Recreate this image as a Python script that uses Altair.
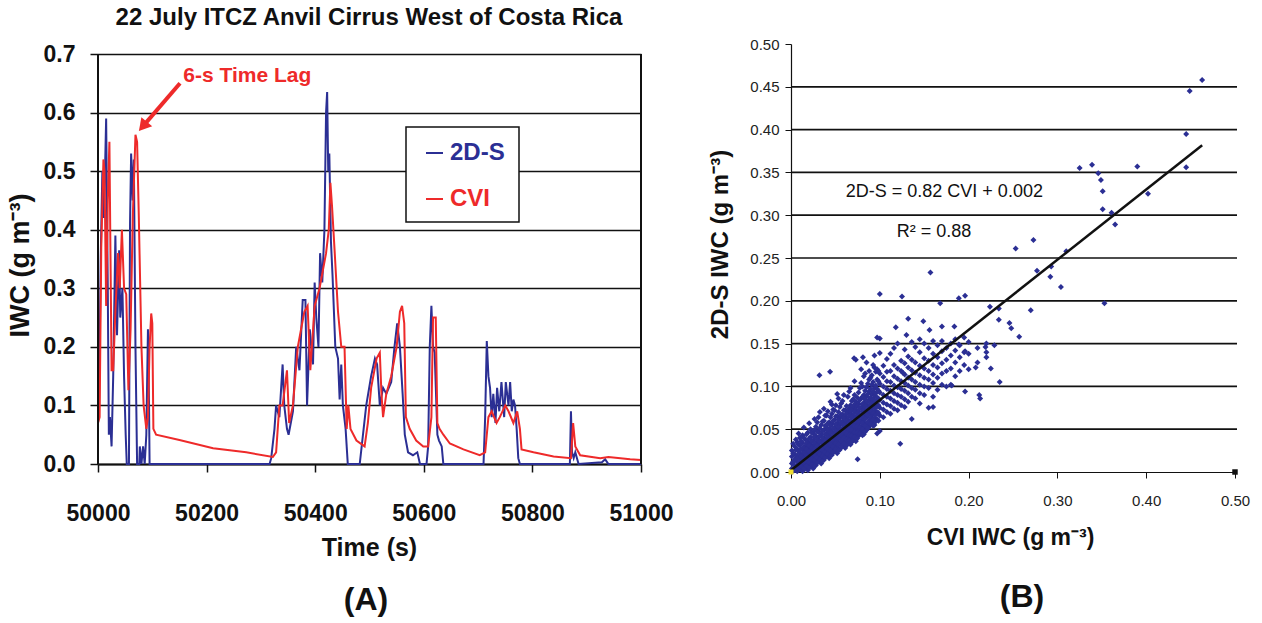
import altair as alt
import pandas as pd

# ---------------- Panel A: time series (time in s, IWC in g m^-3) ----------------
t_2ds = [50000, 50002, 50005, 50008, 50011, 50015, 50018, 50020, 50022, 50025,
         50028, 50032, 50035, 50039, 50041, 50045, 50048, 50051, 50053, 50057,
         50059, 50061, 50064, 50066, 50069, 50072, 50076, 50077, 50080, 50083,
         50086, 50089, 50092, 50094, 50095, 50316, 50319, 50325, 50328, 50334,
         50340, 50343, 50348, 50351, 50359, 50365, 50371, 50377, 50382, 50385,
         50390, 50396, 50399, 50402, 50406, 50409, 50413, 50417, 50420, 50422,
         50424, 50426, 50429, 50432, 50437, 50442, 50445, 50448, 50451, 50456,
         50460, 50482, 50494, 50503, 50510, 50514, 50519, 50525, 50531, 50540,
         50546, 50551, 50556, 50561, 50565, 50571, 50580, 50588, 50593, 50605,
         50608, 50611, 50614, 50617, 50620, 50625, 50628, 50633, 50636, 50710,
         50713, 50716, 50719, 50722, 50725, 50728, 50732, 50735, 50739, 50743,
         50748, 50751, 50756, 50759, 50762, 50765, 50768, 50771, 50774, 50777,
         50869, 50871, 50873, 50876, 50879, 50885, 50928, 50934, 50940, 51000]
iwc_2ds = [0.07, 0.10, 0.35, 0.50, 0.42, 0.59, 0.30, 0.05, 0.08, 0.03,
           0.15, 0.39, 0.22, 0.365, 0.25, 0.30, 0.15, 0.05, 0.0, 0.0,
           0.41, 0.53, 0.45, 0.52, 0.20, 0.0, 0.0, 0.03, 0.0, 0.03,
           0.0, 0.05, 0.23, 0.10, 0.0, 0.0, 0.01, 0.06, 0.10, 0.08,
           0.17, 0.10, 0.06, 0.05, 0.09, 0.20, 0.16, 0.28, 0.28, 0.10,
           0.23, 0.17, 0.31, 0.25, 0.20, 0.36, 0.31, 0.40, 0.60, 0.635,
           0.50, 0.53, 0.38, 0.32, 0.20, 0.18, 0.11, 0.17, 0.10, 0.06,
           0.0, 0.0, 0.10, 0.15, 0.18, 0.17, 0.10, 0.13, 0.12, 0.14,
           0.20, 0.24, 0.20, 0.12, 0.05, 0.02, 0.015, 0.02, 0.0, 0.0,
           0.03, 0.20, 0.27, 0.20, 0.19, 0.05, 0.04, 0.03, 0.0, 0.0,
           0.08, 0.21, 0.15, 0.13, 0.08, 0.12, 0.07, 0.13, 0.09, 0.14,
           0.08, 0.14, 0.10, 0.14, 0.09, 0.11, 0.10, 0.06, 0.01, 0.0,
           0.0, 0.09, 0.02, 0.01, 0.02, 0.0, 0.003, 0.008, 0.0, 0.0]

t_cvi = [50000, 50003, 50006, 50010, 50012, 50015, 50018, 50021, 50025, 50028,
         50032, 50037, 50040, 50044, 50048, 50052, 50056, 50060, 50064, 50069,
         50072, 50075, 50080, 50084, 50089, 50092, 50095, 50098, 50100, 50102,
         50107, 50150, 50212, 50273, 50322, 50328, 50334, 50340, 50348, 50352,
         50359, 50368, 50374, 50380, 50386, 50391, 50399, 50408, 50414, 50420,
         50425, 50428, 50431, 50436, 50442, 50448, 50454, 50458, 50461, 50465,
         50476, 50491, 50497, 50503, 50513, 50519, 50522, 50525, 50531, 50540,
         50550, 50556, 50560, 50564, 50567, 50574, 50586, 50599, 50608, 50614,
         50617, 50622, 50625, 50629, 50636, 50648, 50673, 50703, 50713, 50719,
         50725, 50734, 50740, 50750, 50756, 50765, 50772, 50777, 50780, 50802,
         50839, 50871, 50875, 50879, 50888, 50925, 50940, 50980, 51000]
iwc_cvi = [0.07, 0.08, 0.37, 0.52, 0.50, 0.27, 0.45, 0.55, 0.16, 0.16,
           0.26, 0.36, 0.30, 0.40, 0.30, 0.29, 0.126, 0.23, 0.42, 0.562,
           0.55, 0.43, 0.20, 0.10, 0.06, 0.08, 0.20, 0.257, 0.24, 0.06,
           0.05, 0.041, 0.027, 0.02, 0.012, 0.02, 0.10, 0.10, 0.16, 0.07,
           0.10, 0.20, 0.23, 0.26, 0.27, 0.16, 0.27, 0.30, 0.33, 0.36,
           0.40, 0.48, 0.44, 0.36, 0.26, 0.20, 0.20, 0.06, 0.10, 0.06,
           0.04, 0.03, 0.07, 0.13, 0.18, 0.19, 0.12, 0.08, 0.12, 0.15,
           0.20, 0.26, 0.27, 0.24, 0.08, 0.06, 0.04, 0.03, 0.03, 0.08,
           0.25, 0.25, 0.07, 0.06, 0.05, 0.035, 0.025, 0.015, 0.02, 0.08,
           0.09, 0.07, 0.08, 0.10, 0.09, 0.07, 0.09, 0.06, 0.025, 0.02,
           0.013, 0.01, 0.07, 0.03, 0.015, 0.01, 0.012, 0.008, 0.007]

a_x_ticks = [50000, 50200, 50400, 50600, 50800, 51000]
a_y_ticks = [0.0, 0.1, 0.2, 0.3, 0.4, 0.5, 0.6, 0.7]
a_series = ["2D-S", "CVI"]

# annotation "6-s Time Lag" (data coordinates)
lag_label = ["6-s Time Lag"]
lag_text_at = [50275, 0.662]
arrow_from = [50151, 0.650]
arrow_head_at = [50082.6, 0.5764]

# ---------------- Panel B: scatter 2D-S IWC vs CVI IWC ----------------
cloud_cvi = [0.001, 0.004, 0.007, 0.010, 0.013, 0.016, 0.019, 0.022, 0.025, 0.028,
             0.031, 0.034, 0.037, 0.040, 0.043, 0.046, 0.049, 0.052, 0.055, 0.058,
             0.061, 0.064, 0.067, 0.070, 0.073, 0.076, 0.079, 0.082, 0.085, 0.088,
             0.091, 0.094, 0.097, 0.100, 0.104, 0.108, 0.112, 0.116, 0.120, 0.124,
             0.128, 0.132, 0.136, 0.140, 0.145, 0.150, 0.155, 0.160, 0.165, 0.170,
             0.175, 0.180, 0.185, 0.190, 0.195, 0.200, 0.210, 0.220]
cloud_2ds = [
    [0.000, 0.004, 0.010, 0.018, 0.025],
    [0.002, 0.008, 0.014, 0.021, 0.030],
    [0.001, 0.006, 0.012, 0.019, 0.027, 0.035],
    [0.003, 0.009, 0.015, 0.022, 0.031, 0.040],
    [0.001, 0.007, 0.013, 0.020, 0.026, 0.034, 0.043],
    [0.004, 0.010, 0.017, 0.024, 0.030, 0.038],
    [0.002, 0.008, 0.015, 0.021, 0.028, 0.035, 0.046],
    [0.006, 0.012, 0.018, 0.025, 0.032, 0.041, 0.050],
    [0.004, 0.011, 0.017, 0.023, 0.030, 0.037, 0.045],
    [0.008, 0.014, 0.021, 0.027, 0.034, 0.042, 0.053],
    [0.012, 0.018, 0.024, 0.031, 0.038, 0.047, 0.064],
    [0.010, 0.016, 0.023, 0.029, 0.036, 0.044, 0.055],
    [0.014, 0.020, 0.027, 0.034, 0.040, 0.049, 0.060, 0.074],
    [0.018, 0.024, 0.031, 0.037, 0.045, 0.052, 0.066],
    [0.016, 0.022, 0.029, 0.035, 0.042, 0.050, 0.058],
    [0.020, 0.027, 0.033, 0.040, 0.047, 0.056, 0.068, 0.079],
    [0.024, 0.031, 0.038, 0.044, 0.052, 0.061, 0.072],
    [0.022, 0.029, 0.036, 0.043, 0.049, 0.057, 0.065, 0.091],
    [0.026, 0.033, 0.040, 0.047, 0.055, 0.063, 0.076],
    [0.030, 0.037, 0.044, 0.051, 0.059, 0.067, 0.083],
    [0.028, 0.035, 0.042, 0.049, 0.056, 0.064, 0.072],
    [0.034, 0.040, 0.047, 0.054, 0.061, 0.070, 0.088],
    [0.032, 0.039, 0.046, 0.053, 0.060, 0.068, 0.078, 0.098],
    [0.038, 0.044, 0.051, 0.058, 0.066, 0.075, 0.085],
    [0.036, 0.043, 0.050, 0.057, 0.064, 0.073, 0.082, 0.131],
    [0.042, 0.049, 0.056, 0.063, 0.071, 0.080, 0.093],
    [0.046, 0.053, 0.060, 0.067, 0.075, 0.086, 0.104, 0.120],
    [0.044, 0.051, 0.058, 0.066, 0.073, 0.081, 0.090, 0.112],
    [0.049, 0.056, 0.064, 0.071, 0.079, 0.088, 0.099, 0.128],
    [0.053, 0.060, 0.068, 0.076, 0.084, 0.094, 0.108, 0.118],
    [0.058, 0.066, 0.074, 0.082, 0.091, 0.102, 0.113],
    [0.055, 0.063, 0.071, 0.080, 0.089, 0.098, 0.122, 0.136],
    [0.045, 0.062, 0.070, 0.078, 0.087, 0.097, 0.108, 0.120],
    [0.048, 0.066, 0.075, 0.084, 0.093, 0.103, 0.115, 0.139, 0.156],
    [0.064, 0.073, 0.081, 0.090, 0.100, 0.111, 0.124],
    [0.070, 0.079, 0.088, 0.097, 0.106, 0.117, 0.132],
    [0.068, 0.077, 0.086, 0.095, 0.105, 0.118, 0.138],
    [0.074, 0.083, 0.092, 0.101, 0.112, 0.125, 0.145],
    [0.072, 0.081, 0.090, 0.099, 0.109, 0.121, 0.150],
    [0.078, 0.088, 0.097, 0.106, 0.118, 0.130],
    [0.076, 0.085, 0.095, 0.104, 0.114, 0.127, 0.143],
    [0.082, 0.092, 0.101, 0.110, 0.122, 0.135],
    [0.062, 0.088, 0.098, 0.108, 0.119, 0.131, 0.152],
    [0.086, 0.096, 0.105, 0.116, 0.128, 0.146],
    [0.080, 0.092, 0.102, 0.113, 0.124, 0.140],
    [0.090, 0.100, 0.110, 0.121, 0.133, 0.150],
    [0.075, 0.098, 0.108, 0.118, 0.130, 0.145],
    [0.088, 0.104, 0.114, 0.125, 0.138, 0.153],
    [0.096, 0.110, 0.122, 0.134, 0.148],
    [0.102, 0.115, 0.127, 0.141, 0.153],
    [0.100, 0.118, 0.131, 0.145],
    [0.102, 0.121, 0.136, 0.150],
    [0.112, 0.128, 0.142, 0.155],
    [0.118, 0.134, 0.148],
    [0.125, 0.140, 0.157],
    [0.120, 0.138, 0.152],
    [0.128, 0.145],
    [0.140, 0.150],
]
cloud2_cvi = [0.0025, 0.0055, 0.0085, 0.0115, 0.0145, 0.0175, 0.0205, 0.0235, 0.0265, 0.0295,
              0.0325, 0.0355, 0.0385, 0.0415, 0.0445, 0.0475, 0.0505, 0.0535, 0.0565, 0.0595,
              0.0625, 0.0655, 0.0685, 0.0715, 0.0745, 0.0775, 0.0805, 0.0835, 0.0865, 0.0895,
              0.0925, 0.0955, 0.0985]
cloud2_2ds = [
    [0.003, 0.012, 0.022, 0.033],
    [0.005, 0.016, 0.026, 0.038],
    [0.003, 0.010, 0.017, 0.024, 0.032, 0.045],
    [0.006, 0.012, 0.018, 0.027, 0.036],
    [0.004, 0.011, 0.016, 0.023, 0.029, 0.040, 0.052],
    [0.007, 0.013, 0.020, 0.027, 0.033, 0.044],
    [0.005, 0.011, 0.018, 0.024, 0.031, 0.039, 0.057],
    [0.009, 0.015, 0.021, 0.028, 0.036, 0.046],
    [0.007, 0.014, 0.020, 0.027, 0.034, 0.041, 0.049, 0.062],
    [0.011, 0.017, 0.024, 0.031, 0.038, 0.047, 0.058],
    [0.015, 0.021, 0.028, 0.035, 0.042, 0.051, 0.070],
    [0.013, 0.019, 0.026, 0.033, 0.040, 0.048, 0.059],
    [0.017, 0.023, 0.030, 0.037, 0.044, 0.054, 0.066],
    [0.021, 0.027, 0.034, 0.041, 0.048, 0.057, 0.071],
    [0.019, 0.025, 0.032, 0.039, 0.046, 0.054, 0.064, 0.082],
    [0.023, 0.030, 0.036, 0.043, 0.051, 0.060, 0.073],
    [0.027, 0.034, 0.041, 0.048, 0.056, 0.065, 0.078],
    [0.025, 0.032, 0.039, 0.046, 0.053, 0.061, 0.070, 0.086],
    [0.029, 0.036, 0.043, 0.050, 0.058, 0.067, 0.080],
    [0.033, 0.040, 0.047, 0.055, 0.063, 0.072, 0.090],
    [0.031, 0.038, 0.045, 0.053, 0.060, 0.068, 0.077],
    [0.037, 0.043, 0.050, 0.058, 0.065, 0.074, 0.094],
    [0.035, 0.042, 0.049, 0.056, 0.064, 0.072, 0.083],
    [0.041, 0.047, 0.054, 0.062, 0.070, 0.079, 0.090, 0.106],
    [0.039, 0.046, 0.053, 0.061, 0.068, 0.077, 0.087],
    [0.045, 0.052, 0.059, 0.067, 0.075, 0.084, 0.098],
    [0.043, 0.050, 0.057, 0.064, 0.071, 0.079, 0.088, 0.100],
    [0.047, 0.054, 0.062, 0.069, 0.077, 0.085, 0.095, 0.115],
    [0.051, 0.058, 0.066, 0.074, 0.082, 0.091, 0.103],
    [0.056, 0.063, 0.071, 0.079, 0.087, 0.097, 0.110],
    [0.054, 0.061, 0.069, 0.077, 0.085, 0.094, 0.105, 0.125],
    [0.059, 0.067, 0.075, 0.083, 0.092, 0.101, 0.117],
    [0.060, 0.069, 0.078, 0.086, 0.095, 0.106, 0.118],
]
outlier_cvi = [0.463, 0.449, 0.445, 0.445, 0.390, 0.402, 0.325, 0.339, 0.346, 0.349,
               0.351, 0.351, 0.361, 0.365, 0.310, 0.273, 0.253, 0.277, 0.293, 0.292,
               0.304, 0.157, 0.100, 0.125, 0.189, 0.196, 0.353, 0.270, 0.257, 0.246,
               0.248, 0.234, 0.234, 0.224, 0.229, 0.219, 0.220, 0.225, 0.208, 0.235,
               0.212, 0.213, 0.196, 0.181, 0.160, 0.168, 0.123, 0.075, 0.032, 0.044,
               0.132, 0.149, 0.156, 0.097, 0.118, 0.130, 0.170, 0.184, 0.196, 0.189,
               0.145, 0.071, 0.081, 0.126]
outlier_2ds = [0.458, 0.445, 0.395, 0.356, 0.357, 0.325, 0.355, 0.359, 0.349, 0.341,
               0.328, 0.307, 0.303, 0.289, 0.258, 0.271, 0.261, 0.235, 0.240, 0.228,
               0.216, 0.233, 0.208, 0.205, 0.203, 0.206, 0.197, 0.189, 0.158, 0.174,
               0.168, 0.178, 0.191, 0.193, 0.148, 0.146, 0.134, 0.121, 0.122, 0.105,
               0.090, 0.086, 0.094, 0.101, 0.076, 0.197, 0.033, 0.015, 0.113, 0.117,
               0.179, 0.176, 0.166, 0.157, 0.169, 0.160, 0.170, 0.170, 0.141, 0.149,
               0.155, 0.133, 0.134, 0.116]

fit_slope = 0.82
fit_intercept = 0.002
fit_cvi = [0.0, 0.463]
b_ticks = [0.0, 0.1, 0.2, 0.3, 0.4, 0.5]
b_y_ticks = [0.0, 0.05, 0.10, 0.15, 0.20, 0.25, 0.30, 0.35, 0.40, 0.45, 0.50]
b_grid = [0.05, 0.10, 0.15, 0.20, 0.25, 0.30, 0.35, 0.40, 0.45]
eq_text = ["2D-S = 0.82 CVI + 0.002", "R² = 0.88"]
eq_cvi = [0.1727, 0.161]
eq_2ds = [0.327, 0.280]
origin_pt = [0.0, 0.0]
end_pt = [0.5, 0.0]

# ---------------- styling ----------------
FONT = "Liberation Sans, Arial, Helvetica, sans-serif"
BLUE = "#2B2F94"
RED = "#EE2A2A"
INK = "#111111"

A_W, A_H = 543, 420
B_W, B_H = 444, 428


def text_layer(txt, x, y, size, color=INK, weight="bold"):
    return alt.Chart(pd.DataFrame({"txt": [txt]})).mark_text(
        font=FONT, fontSize=size, fontWeight=weight, color=color,
        align="center", baseline="middle"
    ).encode(x=alt.value(x), y=alt.value(y), text="txt:N")


# ---- Panel A ----
df_a = pd.DataFrame({
    "time": t_2ds + t_cvi,
    "iwc": iwc_2ds + iwc_cvi,
    "series": [a_series[0]] * len(t_2ds) + [a_series[1]] * len(t_cvi),
})

xa = alt.X("time:Q", scale=alt.Scale(domain=[50000, 51000], nice=False, zero=False),
           axis=alt.Axis(values=a_x_ticks, format="d", title="Time (s)",
                         titleX=271, titleY=83, titleAlign="center", titleBaseline="middle",
                         titleFont=FONT, titleFontSize=25, titleFontWeight="bold", titleColor=INK,
                         labelFont=FONT, labelFontSize=23, labelFontWeight="bold", labelColor=INK,
                         labelPadding=30, labelFlush=False, labelOverlap=False, labelBound=False,
                         tickSize=8, tickColor=INK, tickWidth=1.5,
                         domainColor=INK, domainWidth=2, grid=False))
ya = alt.Y("iwc:Q", scale=alt.Scale(domain=[0, 0.7171], nice=False, zero=True),
           axis=alt.Axis(values=a_y_ticks, format=".1f", title="IWC (g m⁻³)",
                         titleX=-78, titleY=221, titleAngle=270, titleAlign="center",
                         titleBaseline="middle",
                         titleFont=FONT, titleFontSize=27, titleFontWeight="bold", titleColor=INK,
                         labelFont=FONT, labelFontSize=23, labelFontWeight="bold", labelColor=INK,
                         labelPadding=15, labelOverlap=False, labelBound=False,
                         tickSize=8, tickColor=INK, tickWidth=1.5,
                         domain=False, grid=True, gridColor=INK, gridWidth=1.6))

lines_a = alt.Chart(df_a).mark_line(strokeWidth=2.0).encode(
    x=xa, y=ya,
    color=alt.Color("series:N", scale=alt.Scale(domain=a_series, range=[BLUE, RED]), legend=None),
)

frame_a = alt.Chart(pd.DataFrame({"time": [a_x_ticks[0], a_x_ticks[-1]],
                                  "iwc": [a_y_ticks[0]] * 2,
                                  "iwc2": [a_y_ticks[-1]] * 2})).mark_rule(
    color=INK, strokeWidth=2).encode(x="time:Q", y="iwc:Q", y2="iwc2:Q")

lag_df = pd.DataFrame({"time": [lag_text_at[0]], "iwc": [lag_text_at[1]], "txt": lag_label})
lag_text = alt.Chart(lag_df).mark_text(font=FONT, fontSize=21, fontWeight="bold", color=RED,
                                       align="center", baseline="middle").encode(
    x="time:Q", y="iwc:Q", text="txt:N")
arrow_df = pd.DataFrame({"time": [arrow_from[0]], "iwc": [arrow_from[1]],
                         "time2": [arrow_head_at[0]], "iwc2": [arrow_head_at[1]]})
arrow = alt.Chart(arrow_df).mark_rule(color=RED, strokeWidth=4).encode(
    x="time:Q", y="iwc:Q", x2="time2:Q", y2="iwc2:Q")
head_df = pd.DataFrame({"time": [arrow_head_at[0]], "iwc": [arrow_head_at[1]]})
head = alt.Chart(head_df).mark_point(shape="triangle-up", filled=True, size=200, opacity=1,
                                     color=RED, angle=220).encode(x="time:Q", y="iwc:Q")

one = pd.DataFrame({"k": [0]})
leg_box = alt.Chart(one).mark_rect(fill="white", stroke=INK, strokeWidth=1.5).encode(
    x=alt.value(308), x2=alt.value(421), y=alt.value(83), y2=alt.value(178))
leg_l1 = alt.Chart(one).mark_rule(color=BLUE, strokeWidth=2).encode(
    x=alt.value(328), x2=alt.value(345), y=alt.value(109))
leg_l2 = alt.Chart(one).mark_rule(color=RED, strokeWidth=2).encode(
    x=alt.value(328), x2=alt.value(345), y=alt.value(155))
leg_t1 = alt.Chart(pd.DataFrame({"txt": [a_series[0]]})).mark_text(
    font=FONT, fontSize=24, fontWeight="bold", color=BLUE, align="left", baseline="middle"
).encode(x=alt.value(352), y=alt.value(109), text="txt:N")
leg_t2 = alt.Chart(pd.DataFrame({"txt": [a_series[1]]})).mark_text(
    font=FONT, fontSize=24, fontWeight="bold", color=RED, align="left", baseline="middle"
).encode(x=alt.value(352), y=alt.value(155), text="txt:N")

title_a = text_layer("22 July ITCZ Anvil Cirrus West of Costa Rica", 271, -26, 24)
label_a = text_layer("(A)", 268, 556, 32)

chart_a = alt.layer(lines_a, frame_a, lag_text, arrow, head, leg_box, leg_l1, leg_l2,
                    leg_t1, leg_t2, title_a, label_a).properties(width=A_W, height=A_H)

# ---- Panel B ----
pts_cvi, pts_2ds = [], []
for xs_list, ys_list in ((cloud_cvi, cloud_2ds), (cloud2_cvi, cloud2_2ds)):
    for cx, ys in zip(xs_list, ys_list):
        for yv in ys:
            pts_cvi.append(cx)
            pts_2ds.append(yv)
pts_cvi += outlier_cvi
pts_2ds += outlier_2ds
df_b = pd.DataFrame({"cvi": pts_cvi, "s2d": pts_2ds})

xb = alt.X("cvi:Q", scale=alt.Scale(domain=[0, 0.5], nice=False),
           axis=alt.Axis(values=b_ticks, format=".2f", title="CVI IWC (g m⁻³)",
                         titleX=219, titleY=65, titleAlign="center", titleBaseline="middle",
                         titleFont=FONT, titleFontSize=23, titleFontWeight="bold", titleColor=INK,
                         labelFont=FONT, labelFontSize=15, labelColor="#222222",
                         labelPadding=15, labelFlush=False, labelOverlap=False, labelBound=False,
                         tickSize=6, tickColor=INK, tickWidth=1,
                         domainColor=INK, domainWidth=1.2, grid=False))
yb = alt.Y("s2d:Q", scale=alt.Scale(domain=[0, 0.5], nice=False),
           axis=alt.Axis(values=b_y_ticks, format=".2f", title="2D-S IWC (g m⁻³)",
                         titleX=-71, titleY=200, titleAngle=270, titleAlign="center",
                         titleBaseline="middle",
                         titleFont=FONT, titleFontSize=24, titleFontWeight="bold", titleColor=INK,
                         labelFont=FONT, labelFontSize=15, labelColor="#222222",
                         labelPadding=6, labelOverlap=False, labelBound=False,
                         tickSize=6, tickColor=INK, tickWidth=1,
                         domainColor=INK, domainWidth=1.2, grid=False))

grid_b = alt.Chart(pd.DataFrame({"s2d": b_grid})).mark_rule(color=INK, strokeWidth=1.7).encode(
    y="s2d:Q", x=alt.value(0), x2=alt.value(B_W + 2))
scatter_b = alt.Chart(df_b).mark_point(shape="diamond", filled=True, size=36, opacity=1,
                                       color=BLUE).encode(x=xb, y=yb)
fit_df = pd.DataFrame({"cvi": fit_cvi, "s2d": [fit_slope * c + fit_intercept for c in fit_cvi]})
fit_b = alt.Chart(fit_df).mark_line(color=INK, strokeWidth=2.5).encode(x="cvi:Q", y="s2d:Q")
origin_b = alt.Chart(pd.DataFrame({"cvi": [origin_pt[0]], "s2d": [origin_pt[1]]})).mark_point(
    shape="square", filled=True, size=25, opacity=1, color="#EEDD33").encode(x="cvi:Q", y="s2d:Q")
end_b = alt.Chart(pd.DataFrame({"cvi": [end_pt[0]], "s2d": [end_pt[1]]})).mark_point(
    shape="square", filled=True, size=30, opacity=1, color=INK).encode(x="cvi:Q", y="s2d:Q")
eq_b = alt.Chart(pd.DataFrame({"cvi": eq_cvi, "s2d": eq_2ds, "txt": eq_text})).mark_text(
    font=FONT, fontSize=18, color=INK, align="center", baseline="middle").encode(
    x="cvi:Q", y="s2d:Q", text="txt:N")
label_b = text_layer("(B)", 231, 553, 32)

chart_b = alt.layer(grid_b, scatter_b, fit_b, origin_b, end_b, eq_b, label_b).properties(
    width=B_W, height=B_H)

chart = alt.hconcat(chart_a, chart_b, spacing=150, bounds="flush").configure_view(
    stroke=None).properties(padding={"left": 6, "top": 6, "right": 5, "bottom": 5},
                            background="white")

chart.save("out.html", embed_options={"renderer": "svg", "actions": False})
